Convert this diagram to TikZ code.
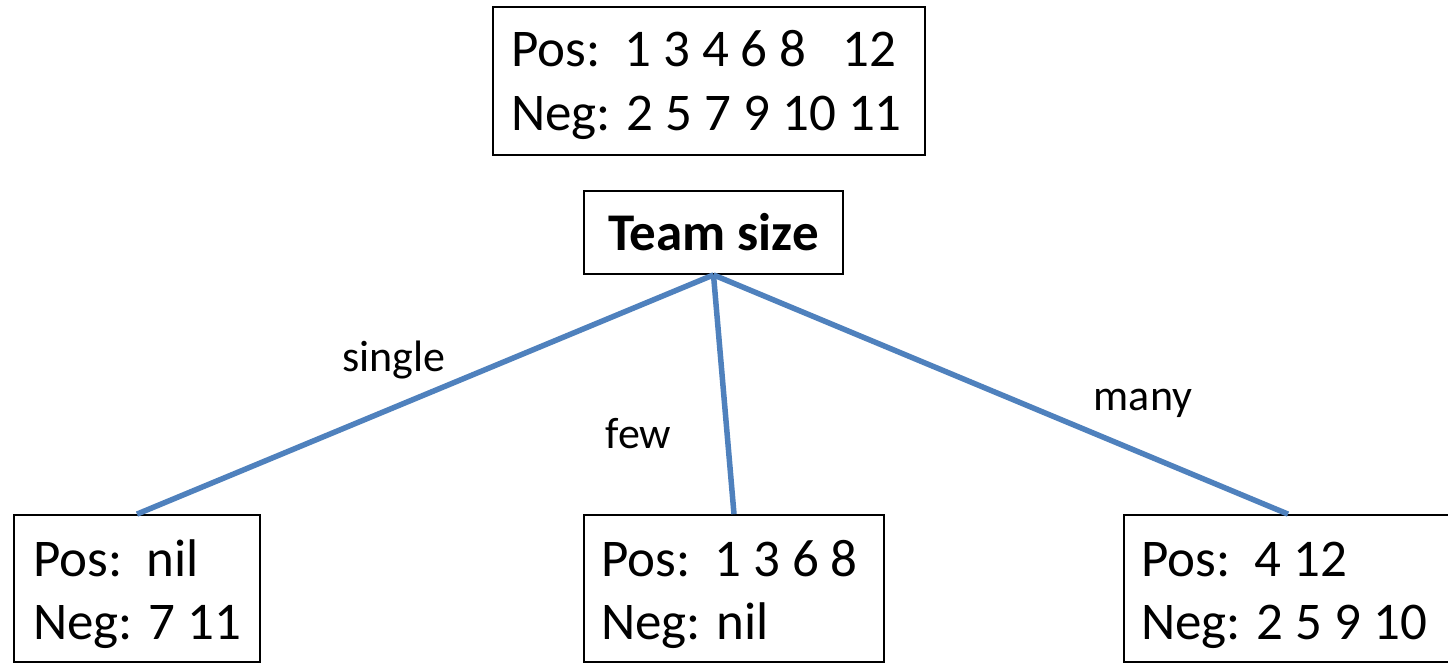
\documentclass[tikz,border=0pt]{standalone}
\usepackage{fontspec}
\setmainfont{Carlito}
\definecolor{branch}{HTML}{4F81BD}
\begin{document}
\begin{tikzpicture}[x=1pt,y=-1pt,
  box/.style={draw=black, line width=1.8pt, rectangle, inner sep=0pt},
  row/.style={anchor=base west, inner sep=0pt, font=\fontsize{53}{63}\selectfont},
  tag/.style={anchor=base, inner sep=0pt, font=\fontsize{44}{53}\selectfont},
  branchline/.style={draw=branch, line width=5.5pt}]
\clip (0,0) rectangle (1448,664);
\fill[white] (0,0) rectangle (1448,664);

% full sample set
\node[box, minimum width=432pt, minimum height=148pt] (all) at (709,81) {};
\node[row] (allpos) at (511,66) {Pos:\ \ 1 3 4 6 8\ \ \ 12};
\node[row] (allneg) at (511,130) {Neg: 2 5 7 9 10 11};

% attribute being tested
\node[box, minimum width=259pt, minimum height=83pt,
      font=\fontsize{53}{63}\selectfont\bfseries] (team) at (713.5,232.5) {Team size};

% leaf sets
\node[box, minimum width=246pt, minimum height=147pt] (single) at (137,588.5) {};
\node[row] (singlepos) at (33,576) {Pos:\ \ nil};
\node[row] (singleneg) at (33,639) {Neg: 7 11};

\node[box, minimum width=300pt, minimum height=147pt] (few) at (734,588.5) {};
\node[row] (fewpos) at (601,576) {Pos:\ \ 1 3 6 8};
\node[row] (fewneg) at (601,639) {Neg: nil};

\node[box, minimum width=328pt, minimum height=147pt] (many) at (1288,588.5) {};
\node[row] (manypos) at (1141,576) {Pos:\ \ 4 12};
\node[row] (manyneg) at (1141,639) {Neg: 2 5 9 10};

% branches
\draw[branchline] (team.south) -- (single.north);
\draw[branchline] (team.south) -- (few.north);
\draw[branchline] (team.south) -- (many.north);

% branch values
\node[tag] (lsingle) at (394,371) {single};
\node[tag] (lfew) at (638.5,448) {few};
\node[tag] (lmany) at (1143,410) {many};
\end{tikzpicture}
\end{document}
